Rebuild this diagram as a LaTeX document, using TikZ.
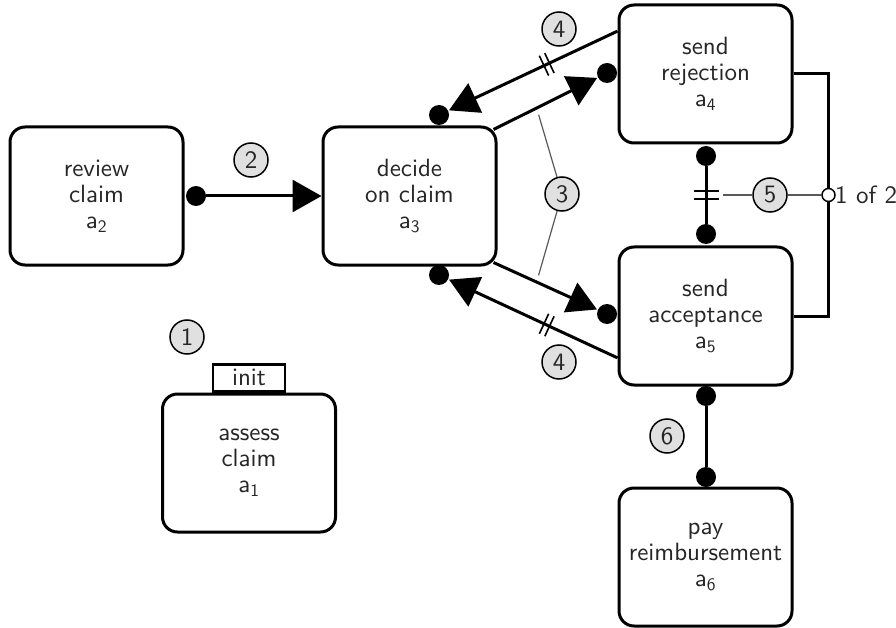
\documentclass[tikz,border=0pt]{standalone}
\usepackage{fontspec}
\setsansfont{lmsans10-regular.otf}
\usetikzlibrary{arrows.meta,calc,backgrounds,decorations.markings}
\begin{document}
\begin{tikzpicture}[x=1pt,y=-1pt,
  every node/.style={font=\sffamily\fontsize{25}{26}\selectfont, text=black!85},
  act/.style={draw, line width=3pt, rounded corners=15pt, fill=white, minimum width=173pt, minimum height=138pt, align=center, inner sep=0pt},
  num/.style={circle, draw, line width=1.5pt, fill=black!12, minimum size=34pt, inner sep=0pt},
  dot/.style={circle, fill=black, minimum size=20pt, inner sep=0pt},
  conn/.style={line width=3pt},
  arr/.style={conn, -{Triangle[length=29pt,width=32pt]}},
  thinlink/.style={line width=1.2pt, draw=black!65},
  dslash/.style={postaction={decorate}, decoration={markings, mark=at position #1 with {\draw[-, line width=1.6pt] (-3pt,-11pt)--(-3pt,11pt) (3pt,-11pt)--(3pt,11pt);}}}
]
\useasboundingbox (0,0) rectangle (896,628);

% activities
\node[act] (rev) at (96.5,196) {review\\claim\\a\textsubscript{2}};
\node[act] (dec) at (409.5,196) {decide\\on claim\\a\textsubscript{3}};
\node[act] (rej) at (705.5,74) {send\\rejection\\a\textsubscript{4}};
\node[act] (acc) at (705.5,316) {send\\acceptance\\a\textsubscript{5}};
\node[act] (pay) at (705.5,557) {pay\\reimbursement\\a\textsubscript{6}};
\node[act] (ass) at (249,463) {assess\\claim\\a\textsubscript{1}};
\node[draw, line width=2.5pt, fill=white, minimum width=72pt, minimum height=27pt, inner sep=0pt, anchor=south] (init) at (ass.north) {init};

% numbers
\node[num] (n1) at (187,337) {1};
\node[num] (n2) at (251,160) {2};
\node[num] (n3) at (562,194) {3};
\node[num] (n4a) at (559,29) {4};
\node[num] (n4b) at (559,362) {4};
\node[num] (n5) at (770,195) {5};
\node[num] (n6) at (667,436) {6};

% dots
\node[dot] (d2) at (196,196) {};
\node[dot] (dR) at (607,73) {};
\node[dot] (dD1) at (439,115) {};
\node[dot] (dA) at (607,314) {};
\node[dot] (dD2) at (439,275) {};
\node[dot] (dV1) at (706,156) {};
\node[dot] (dV2) at (706,234) {};
\node[dot] (dP1) at (706,396) {};
\node[dot] (dP2) at (706,477) {};

% 1 of 2
\node[circle, draw, line width=1.5pt, fill=white, minimum size=13pt, inner sep=0pt] (oc) at (828.5,195) {};
\node[anchor=west, inner sep=0pt] (oneof) at (835,195) {1 of 2};

\coordinate (s1) at ($(dec.north east)+(-4,4)$);
\coordinate (s2) at ($(dec.south east)+(-4,-4)$);
\coordinate (r1) at ($(rej.north west)!0.196!(rej.south west)$);
\coordinate (a1) at ($(acc.north west)!0.797!(acc.south west)$);
\coordinate (bar) at ($(dV1)!0.5!(dV2)$);

\begin{pgfonlayer}{background}
\draw[arr] (d2) -- (dec.west);
\draw[arr] (s1) -- ($(dR)!11pt!(s1)$);
\draw[arr, dslash=0.42] (r1) -- ($(dD1)!11pt!(r1)$);
\draw[arr] (s2) -- ($(dA)!11pt!(s2)$);
\draw[arr, dslash=0.42] (a1) -- ($(dD2)!11pt!(a1)$);
\draw[conn] (dV1) -- (dV2);
\draw[conn] (dP1) -- (dP2);
\draw[conn] (rej.east) -| (oc.center) |- (acc.east);
\end{pgfonlayer}

\draw[line width=1.6pt] ($(bar)+(-12.5,-4)$) -- ++(25,0) ($(bar)+(-12.5,4)$) -- ++(25,0);
\draw[thinlink, shorten <=17pt] (bar) -- (n5);
\draw[thinlink] (n5) -- (oc);
\draw[thinlink, shorten >=7pt] (n3) -- ($(s1)!0.38!(dR)$);
\draw[thinlink, shorten >=7pt] (n3) -- ($(s2)!0.38!(dA)$);
\end{tikzpicture}
\end{document}
